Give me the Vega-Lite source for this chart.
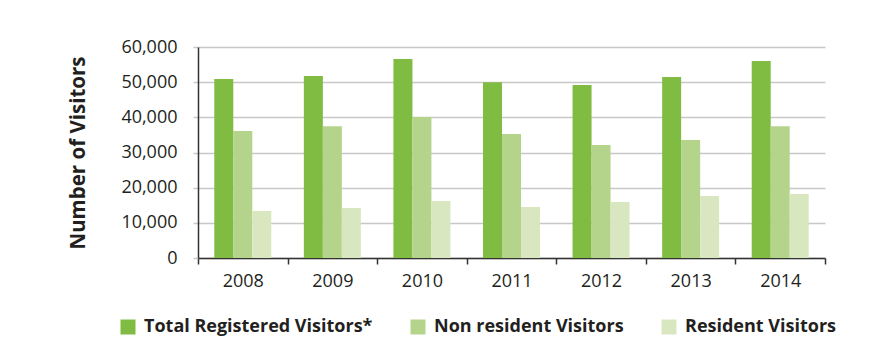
{
  "$schema": "https://vega.github.io/schema/vega-lite/v6.json",
  "width": 627,
  "height": 211,
  "autosize": {"type": "none"},
  "padding": {"left": 198, "top": 47, "right": 71, "bottom": 104},
  "background": "white",
  "config": {
    "font": "Open Sans",
    "view": {"stroke": null}
  },
  "data": {
    "values": [
      {"year": "2008", "series": "Total Registered Visitors*", "visitors": 50900},
      {"year": "2008", "series": "Non resident Visitors", "visitors": 36100},
      {"year": "2008", "series": "Resident Visitors", "visitors": 13400},
      {"year": "2009", "series": "Total Registered Visitors*", "visitors": 51750},
      {"year": "2009", "series": "Non resident Visitors", "visitors": 37500},
      {"year": "2009", "series": "Resident Visitors", "visitors": 14200},
      {"year": "2010", "series": "Total Registered Visitors*", "visitors": 56600},
      {"year": "2010", "series": "Non resident Visitors", "visitors": 40100},
      {"year": "2010", "series": "Resident Visitors", "visitors": 16200},
      {"year": "2011", "series": "Total Registered Visitors*", "visitors": 50000},
      {"year": "2011", "series": "Non resident Visitors", "visitors": 35250},
      {"year": "2011", "series": "Resident Visitors", "visitors": 14500},
      {"year": "2012", "series": "Total Registered Visitors*", "visitors": 49200},
      {"year": "2012", "series": "Non resident Visitors", "visitors": 32100},
      {"year": "2012", "series": "Resident Visitors", "visitors": 15900},
      {"year": "2013", "series": "Total Registered Visitors*", "visitors": 51450},
      {"year": "2013", "series": "Non resident Visitors", "visitors": 33550},
      {"year": "2013", "series": "Resident Visitors", "visitors": 17600},
      {"year": "2014", "series": "Total Registered Visitors*", "visitors": 56000},
      {"year": "2014", "series": "Non resident Visitors", "visitors": 37500},
      {"year": "2014", "series": "Resident Visitors", "visitors": 18200}
    ]
  },
  "mark": {"type": "bar"},
  "encoding": {
    "x": {
      "field": "year",
      "type": "nominal",
      "scale": {"paddingInner": 0, "paddingOuter": 0},
      "axis": {
        "title": null,
        "labelAngle": 0,
        "labelFontSize": 18,
        "labelColor": "#231f20",
        "labelPadding": 8,
        "tickBand": "extent",
        "tickSize": 6,
        "tickColor": "#333333",
        "tickWidth": 1.5,
        "domainColor": "#333333",
        "domainWidth": 1.5
      }
    },
    "xOffset": {
      "field": "series",
      "type": "nominal",
      "sort": ["Total Registered Visitors*", "Non resident Visitors", "Resident Visitors"],
      "scale": {"paddingInner": 0, "paddingOuter": 0.857}
    },
    "y": {
      "field": "visitors",
      "type": "quantitative",
      "scale": {"domain": [0, 60000], "nice": false},
      "axis": {
        "title": "Number of Visitors",
        "titleFontSize": 20.5,
        "titleFontWeight": "bold",
        "titleColor": "#231f20",
        "titlePadding": 32,
        "values": [0, 10000, 20000, 30000, 40000, 50000, 60000],
        "format": ",d",
        "labelFontSize": 18,
        "labelColor": "#231f20",
        "labelPadding": 16,
        "tickSize": 5,
        "tickColor": "#c8c8c8",
        "tickWidth": 1.5,
        "gridColor": "#c8c8c8",
        "gridWidth": 1.5,
        "domainColor": "#333333",
        "domainWidth": 1.5
      }
    },
    "color": {
      "field": "series",
      "type": "nominal",
      "sort": ["Total Registered Visitors*", "Non resident Visitors", "Resident Visitors"],
      "scale": {
        "domain": ["Total Registered Visitors*", "Non resident Visitors", "Resident Visitors"],
        "range": ["#80bc41", "#b3d48a", "#d9e7c1"]
      },
      "legend": {
        "title": null,
        "orient": "none",
        "direction": "horizontal",
        "columns": 3,
        "legendX": -79,
        "legendY": 271,
        "padding": 0,
        "symbolType": "square",
        "symbolSize": 225,
        "symbolStrokeWidth": 0,
        "labelFontSize": 18,
        "labelFontWeight": "bold",
        "labelColor": "#231f20",
        "labelOffset": 7,
        "columnPadding": 36,
        "labelLimit": 400
      }
    }
  }
}
